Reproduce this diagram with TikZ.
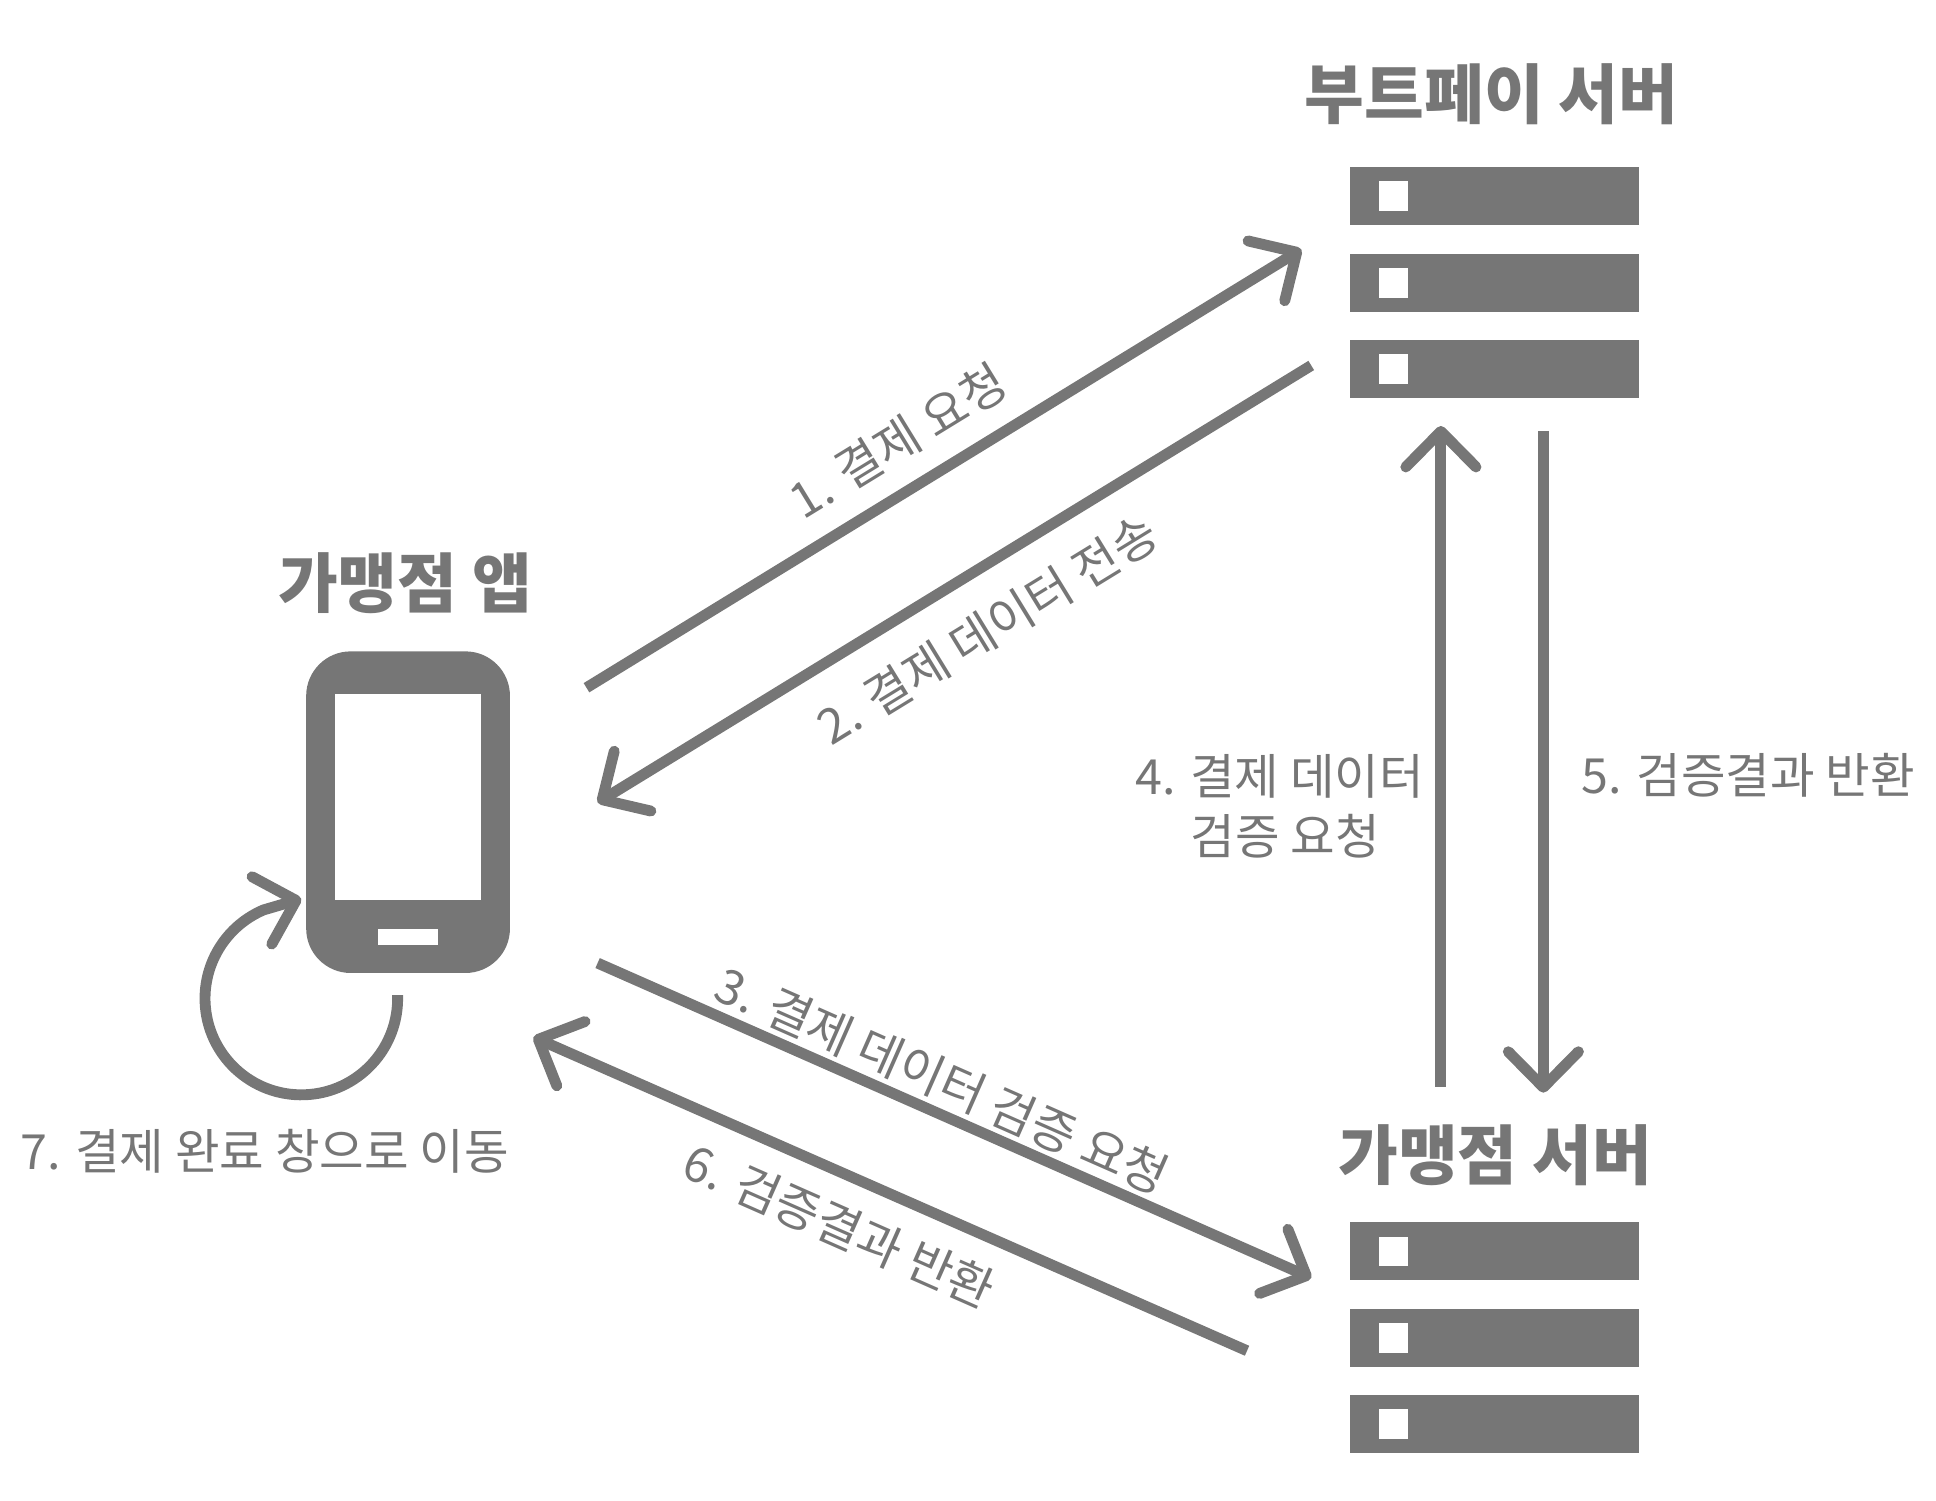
\documentclass[tikz,border=0pt]{standalone}
\usepackage{fontspec}
\setmainfont{Noto Sans CJK KR}
\usetikzlibrary{arrows.meta,positioning,calc}
\definecolor{diagramGrey}{HTML}{767676}
\tikzset{
	barNode/.style={rectangle,fill=diagramGrey,inner sep=0pt,minimum width=5.85cm,minimum height=1.17cm},
	ledNode/.style={rectangle,fill=white,inner sep=0pt,minimum width=0.6cm,minimum height=0.6cm},
	titleNode/.style={text=diagramGrey,font=\bfseries\fontsize{37.4}{40}\selectfont},
	labelNode/.style={text=diagramGrey,font=\fontsize{27.9}{34.8}\selectfont,align=center},
	flowArrow/.style={draw=diagramGrey,line width=0.22cm,-{Straight Barb[length=0.72cm,width=1.42cm,round]}}
}
\begin{document}
\begin{tikzpicture}[x=0.025cm,y=-0.025cm]
		\def\xBarCenter{1210.5}
		\def\xLed{1128.5}
		\def\yPayA{159}
		\def\yPayB{229}
		\def\yPayC{299}
		\def\yShopA{1013.5}
		\def\yShopB{1083.5}
		\def\yShopC{1153.5}

\useasboundingbox (0,0) rectangle (1568,1215);

\node[titleNode] (TitlePay) at (1208,76) {부트페이 서버};
\node[titleNode] (TitleApp) at (328,472) {가맹점 앱};
\node[titleNode] (TitleShop) at (1211,936) {가맹점 서버};

\node[barNode] (PayA) at (\xBarCenter,\yPayA) {};
\node[barNode] (PayB) at (\xBarCenter,\yPayB) {};
\node[barNode] (PayC) at (\xBarCenter,\yPayC) {};
\node[ledNode] (LedPayA) at (\xLed,\yPayA) {};
\node[ledNode] (LedPayB) at (\xLed,\yPayB) {};
\node[ledNode] (LedPayC) at (\xLed,\yPayC) {};

\node[barNode] (ShopA) at (\xBarCenter,\yShopA) {};
\node[barNode] (ShopB) at (\xBarCenter,\yShopB) {};
\node[barNode] (ShopC) at (\xBarCenter,\yShopC) {};
\node[ledNode] (LedShopA) at (\xLed,\yShopA) {};
\node[ledNode] (LedShopB) at (\xLed,\yShopB) {};
\node[ledNode] (LedShopC) at (\xLed,\yShopC) {};

\node[rectangle,fill=diagramGrey,rounded corners=0.9cm,inner sep=0pt,minimum width=4.125cm,minimum height=6.51cm] (Phone) at (330.5,657.8) {};
\node[rectangle,fill=white,inner sep=0pt,minimum width=2.95cm,minimum height=4.17cm] (Screen) at (330.5,645.7) {};
\node[rectangle,fill=white,inner sep=0pt,minimum width=1.2cm,minimum height=0.32cm] (HomeKey) at (330.5,758.6) {};

\coordinate (TailA) at (475,557);
\coordinate (TipA) at (1054,202);
\coordinate (TailB) at (1062,296);
\coordinate (TipB) at (484,650);
\coordinate (TailC) at (484,780);
\coordinate (TipC) at (1062,1035);
\coordinate (TailD) at (1167,880);
\coordinate (TipD) at (1167,345);
\coordinate (TailE) at (1250,349);
\coordinate (TipE) at (1250,885);
\coordinate (TailF) at (1010,1094);
\coordinate (TipF) at (432,840);
\coordinate (TailG) at (322,806);
\coordinate (TipG) at (244,728);

\draw[flowArrow] (TailA) -- (TipA);
\draw[flowArrow] (TailB) -- (TipB);
\draw[flowArrow] (TailC) -- (TipC);
\draw[flowArrow] (TailD) -- (TipD);
\draw[flowArrow] (TailE) -- (TipE);
\draw[flowArrow] (TailF) -- (TipF);
\draw[flowArrow] (TailG) arc[start angle=-2,end angle=247,radius=78] -- (TipG);

\node[labelNode,rotate=31.5] (LabelA) at (727,357) {1. 결제 요청};
\node[labelNode,rotate=31.5] (LabelB) at (800,510) {2. 결제 데이터 전송};
\node[labelNode,rotate=-23.8] (LabelC) at (763.5,875) {3. 결제 데이터 검증 요청};
\node[labelNode] (LabelD) at (1036.5,653) {4. 결제 데이터\\\hspace*{0.225cm}검증 요청};
\node[labelNode] (LabelE) at (1416,628) {5. 검증결과 반환};
\node[labelNode,rotate=-23.8] (LabelF) at (680,993) {6. 검증결과 반환};
\node[labelNode] (LabelG) at (214.5,932.5) {7. 결제 완료 창으로 이동};

	\end{tikzpicture}
\end{document}
